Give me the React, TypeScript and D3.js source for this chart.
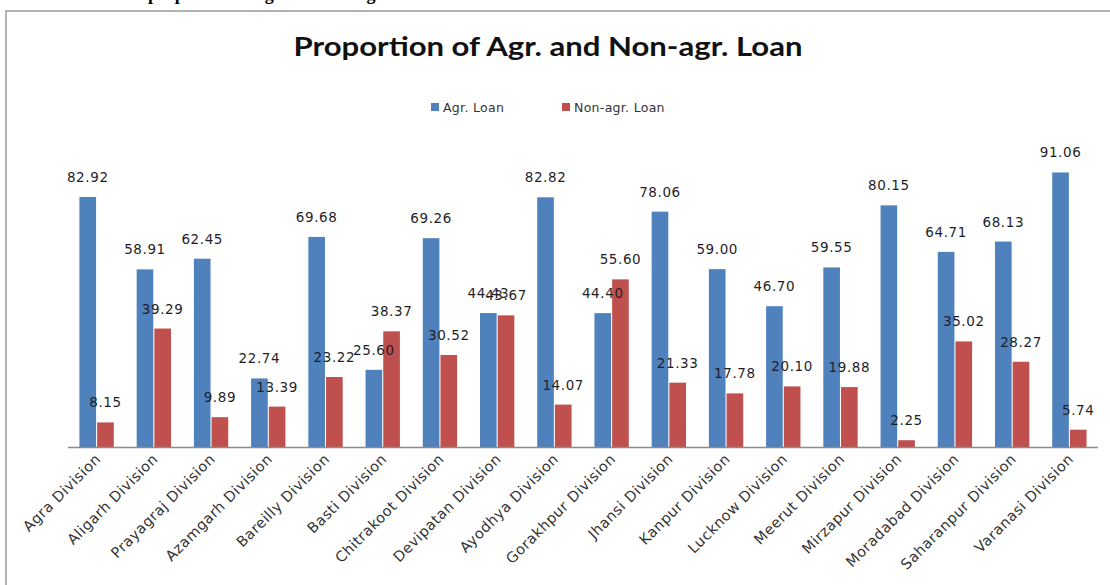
import React from "react";
import * as d3 from "d3";

const divisions = [
  "Agra Division", "Aligarh Division", "Prayagraj Division", "Azamgarh Division",
  "Bareilly Division", "Basti Division", "Chitrakoot Division", "Devipatan Division",
  "Ayodhya Division", "Gorakhpur Division", "Jhansi Division", "Kanpur Division",
  "Lucknow Division", "Meerut Division", "Mirzapur Division", "Moradabad Division",
  "Saharanpur Division", "Varanasi Division",
];
const agrLoan = [
  82.92, 58.91, 62.45, 22.74, 69.68, 25.6, 69.26, 44.43, 82.82,
  44.4, 78.06, 59.0, 46.7, 59.55, 80.15, 64.71, 68.13, 91.06,
];
const nonAgrLoan = [
  8.15, 39.29, 9.89, 13.39, 23.22, 38.37, 30.52, 43.67, 14.07,
  55.6, 21.33, 17.78, 20.1, 19.88, 2.25, 35.02, 28.27, 5.74,
];
const seriesNames = ["Agr. Loan", "Non-agr. Loan"];
const colors = ["#4F81BD", "#C0504D"];

const W = 1110;
const H = 585;
const base = 447;

const App: React.FC = () => {
  const x0 = d3.scaleBand<string>().domain(divisions).range([68, 1098]).padding(0);
  const bw = x0.bandwidth();
  const x1 = d3
    .scaleBand<string>()
    .domain(seriesNames)
    .range([bw * 0.2, bw * 0.8])
    .paddingInner(0.06);
  const y = d3.scaleLinear().domain([0, 100]).range([base, 145.5]);
  const values = [agrLoan, nonAgrLoan];
  const numFont = "'DejaVu Sans', Verdana, sans-serif";

  return (
    <svg
      width={W}
      height={H}
      style={{ position: "absolute", left: 0, top: 0, background: "#fff" }}
    >
      {/* caption of the page above, cut off by the crop */}
      <text
        x={148}
        y={-0.5}
        fontFamily="'Liberation Serif', serif"
        fontWeight="bold"
        fontSize={18}
        fill="#000"
      >
        proportion of agr. and non-agr. loan
      </text>
      <rect x={6} y={11} width={W + 20} height={H + 20} fill="#fff" stroke="#9a9a9a" strokeWidth={1.5} />

      <text
        x={548}
        y={56}
        textAnchor="middle"
        fontFamily="Lato, 'Open Sans', sans-serif"
        fontWeight="bold"
        fontSize={26}
        textLength={509}
        lengthAdjust="spacingAndGlyphs"
        fill="#111"
      >
        Proportion of Agr. and Non-agr. Loan
      </text>

      {/* legend */}
      {seriesNames.map((s, i) => {
        const lx = i === 0 ? 431 : 562;
        return (
          <g key={s}>
            <rect x={lx} y={103} width={8} height={8} fill={colors[i]} />
            <text
              x={lx + 12}
              y={111.5}
              fontFamily={numFont}
              fontSize={12.5}
              letterSpacing={0.3}
              fill="#333"
            >
              {s}
            </text>
          </g>
        );
      })}

      {/* bars */}
      {divisions.map((d, di) => (
        <g key={d} transform={`translate(${x0(d)},0)`}>
          {seriesNames.map((s, si) => {
            const v = values[si][di];
            return (
              <rect
                key={s}
                x={x1(s)}
                y={y(v)}
                width={x1.bandwidth()}
                height={base - y(v)}
                fill={colors[si]}
              />
            );
          })}
        </g>
      ))}

      {/* axis line */}
      <line x1={68} x2={1098} y1={base + 0.5} y2={base + 0.5} stroke="#8c8c8c" strokeWidth={1.5} />

      {/* value labels */}
      {divisions.map((d, di) =>
        seriesNames.map((s, si) => {
          const v = values[si][di];
          return (
            <text
              key={d + s}
              x={(x0(d) as number) + (x1(s) as number) + x1.bandwidth() / 2}
              y={y(v) - 15}
              textAnchor="middle"
              fontFamily={numFont}
              fontSize={13.5}
              letterSpacing={0.6}
              fill="#1f1f2a"
            >
              {v.toFixed(2)}
            </text>
          );
        })
      )}

      {/* category labels */}
      {divisions.map((d) => {
        const cx = (x0(d) as number) + bw / 2 + 5;
        return (
          <text
            key={d}
            transform={`translate(${cx},${base + 13}) rotate(-45)`}
            textAnchor="end"
            fontFamily={numFont}
            fontSize={14.5}
            letterSpacing={0.5}
            fill="#333"
          >
            {d}
          </text>
        );
      })}
    </svg>
  );
};

export default App;
